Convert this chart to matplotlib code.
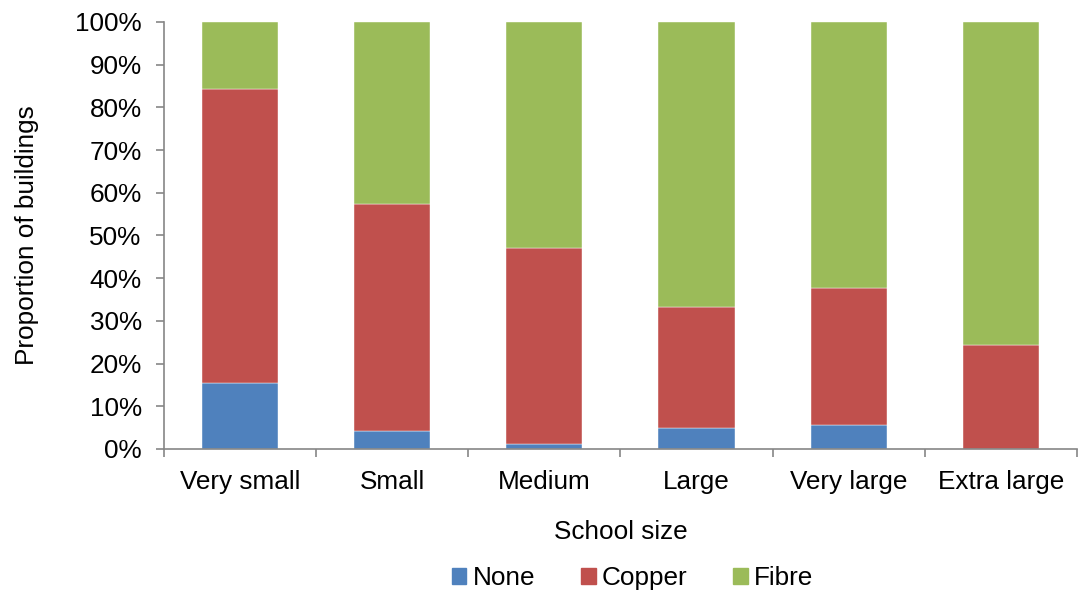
import numpy as np
import matplotlib.pyplot as plt
from matplotlib.ticker import PercentFormatter
from matplotlib.patches import Patch

plt.rcParams["font.family"] = ["Liberation Sans", "DejaVu Sans"]

categories = ["Very small", "Small", "Medium", "Large", "Very large", "Extra large"]
none_pct = [15.5, 4.2, 1.2, 4.9, 5.6, 0.0]
copper_pct = [68.8, 53.2, 45.9, 28.4, 32.1, 24.4]
fibre_pct = [100 - n - c for n, c in zip(none_pct, copper_pct)]

colors = {"None": "#4f81bd", "Copper": "#c0504d", "Fibre": "#9bbb59"}
fs = 18.8

fig = plt.figure(figsize=(10.78, 5.93), dpi=100)
ax = fig.add_axes([0.152, 0.243, 0.847, 0.72])

x = np.arange(len(categories))
w = 0.5
ax.bar(x, none_pct, w, color=colors["None"], edgecolor="white", linewidth=0.3)
ax.bar(x, copper_pct, w, bottom=none_pct, color=colors["Copper"], edgecolor="white", linewidth=0.3)
bottom2 = [n + c for n, c in zip(none_pct, copper_pct)]
ax.bar(x, fibre_pct, w, bottom=bottom2, color=colors["Fibre"], edgecolor="white", linewidth=0.3)

ax.set_xlim(-0.5, len(categories) - 0.5)
ax.set_ylim(0, 100)
ax.set_yticks(np.arange(0, 101, 10))
ax.yaxis.set_major_formatter(PercentFormatter(decimals=0))

# category labels centred, tick marks between categories
ax.set_xticks(np.arange(-0.5, len(categories), 1.0))
ax.set_xticklabels([])
ax.set_xticks(x, minor=True)
ax.set_xticklabels(categories, minor=True)
ax.tick_params(axis="x", which="minor", length=0, labelsize=fs, pad=15)
ax.tick_params(axis="x", which="major", length=6, color="#868686", width=1.2)
ax.tick_params(axis="y", length=6, color="#868686", width=1.2, labelsize=fs, pad=10)

for s in ["top", "right"]:
    ax.spines[s].set_visible(False)
for s in ["left", "bottom"]:
    ax.spines[s].set_color("#868686")
    ax.spines[s].set_linewidth(1.2)

ax.set_xlabel("School size", fontsize=fs, labelpad=19)
ax.set_ylabel("Proportion of buildings", fontsize=fs, labelpad=26)

handles = [Patch(color=colors[k], label=k) for k in ["None", "Copper", "Fibre"]]
fig.legend(handles=handles, loc="center", bbox_to_anchor=(0.587, 0.025), ncol=3,
           frameon=False, fontsize=fs, handlelength=0.55, handleheight=0.55,
           handletextpad=0.25, columnspacing=1.75, borderpad=0)

fig.savefig("out.png", dpi=100)
